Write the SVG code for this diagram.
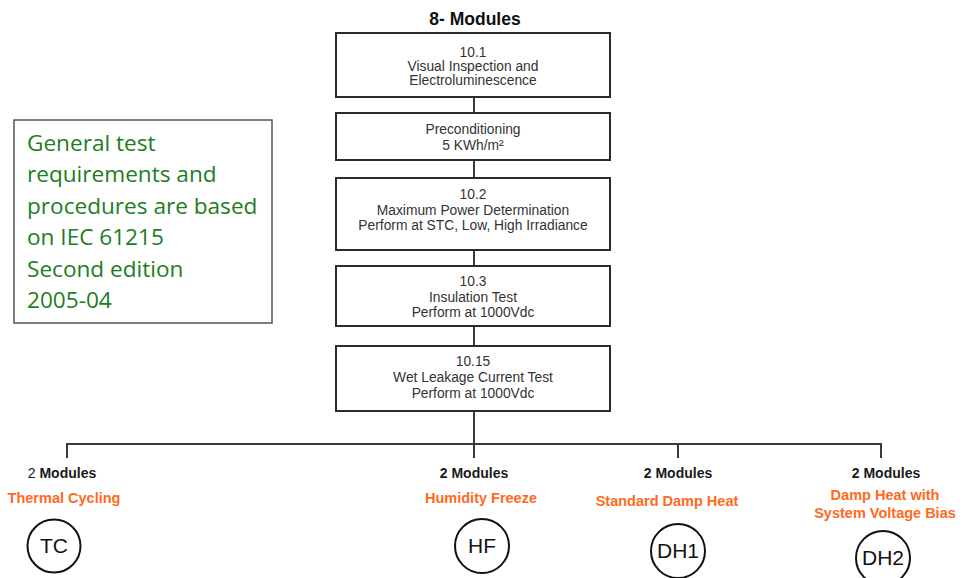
<svg xmlns="http://www.w3.org/2000/svg" width="966" height="578" viewBox="0 0 966 578">
  <style>
    .step { fill: #ffffff; stroke: #2b2b2b; stroke-width: 2; }
    .step-text { font-family: "Liberation Sans", Arial, sans-serif; font-size: 13.8px; fill: #333333; text-anchor: middle; }
    .link { stroke: #3a3a3a; stroke-width: 2; fill: none; }
    .count { font-family: "Liberation Sans", Arial, sans-serif; font-size: 14px; font-weight: bold; fill: #1a1a1a; text-anchor: middle; }
    .test-name { font-family: "Liberation Sans", Arial, sans-serif; font-size: 14.5px; font-weight: bold; fill: #ff6a1c; text-anchor: middle; }
    .badge { fill: #ffffff; stroke: #111111; stroke-width: 2; }
    .badge-text { font-family: "Liberation Sans", Arial, sans-serif; font-size: 21px; fill: #111111; text-anchor: middle; }
    .note { font-family: "Open Sans", Lato, sans-serif; font-size: 22.6px; fill: #1e7d1e; }
  </style>

  <rect width="966" height="578" fill="#ffffff"/>

  <text x="475" y="25" font-family="Liberation Sans, Arial, sans-serif" font-size="17.5" font-weight="bold" fill="#111111" text-anchor="middle">8- Modules</text>

  <!-- connectors -->
  <g id="connectors">
    <line class="link" x1="474" y1="97" x2="474" y2="113"/>
    <line class="link" x1="474" y1="160" x2="474" y2="178"/>
    <line class="link" x1="474" y1="250" x2="474" y2="266"/>
    <line class="link" x1="474" y1="326" x2="474" y2="346"/>
    <line class="link" x1="474" y1="411" x2="474" y2="458"/>
    <polyline class="link" points="67,458 67,444 881,444 881,458"/>
    <line class="link" x1="678" y1="444" x2="678" y2="458"/>
  </g>

  <!-- sequence of steps -->
  <g id="step-visual">
    <rect class="step" x="336" y="33" width="274" height="64"/>
    <text class="step-text" x="473" y="57">10.1</text>
    <text class="step-text" x="473" y="71">Visual Inspection and</text>
    <text class="step-text" x="473" y="85">Electroluminescence</text>
  </g>
  <g id="step-precondition">
    <rect class="step" x="336" y="113" width="274" height="47"/>
    <text class="step-text" x="473" y="134">Preconditioning</text>
    <text class="step-text" x="473" y="150">5 KWh/m²</text>
  </g>
  <g id="step-power">
    <rect class="step" x="336" y="178" width="274" height="72"/>
    <text class="step-text" x="473" y="199">10.2</text>
    <text class="step-text" x="473" y="215">Maximum Power Determination</text>
    <text class="step-text" x="473" y="230">Perform at STC, Low, High Irradiance</text>
  </g>
  <g id="step-insulation">
    <rect class="step" x="336" y="266" width="274" height="60"/>
    <text class="step-text" x="473" y="286">10.3</text>
    <text class="step-text" x="473" y="302">Insulation Test</text>
    <text class="step-text" x="473" y="317">Perform at 1000Vdc</text>
  </g>
  <g id="step-wet-leakage">
    <rect class="step" x="336" y="346" width="274" height="65"/>
    <text class="step-text" x="473" y="366">10.15</text>
    <text class="step-text" x="473" y="382">Wet Leakage Current Test</text>
    <text class="step-text" x="473" y="398">Perform at 1000Vdc</text>
  </g>

  <!-- reference note -->
  <g id="note">
    <rect x="14" y="120" width="258" height="203" fill="#ffffff" stroke="#555555" stroke-width="1.5"/>
    <text class="note" x="27" y="151">General test</text>
    <text class="note" x="27" y="182">requirements and</text>
    <text class="note" x="27" y="214">procedures are based</text>
    <text class="note" x="27" y="245">on IEC 61215</text>
    <text class="note" x="27" y="277">Second edition</text>
    <text class="note" x="27" y="308">2005-04</text>
  </g>

  <!-- test branches -->
  <g id="branch-tc">
    <text class="count" x="62" y="478"><tspan font-weight="normal">2</tspan> Modules</text>
    <text class="test-name" x="64" y="503">Thermal Cycling</text>
    <circle class="badge" cx="54" cy="546" r="26.5"/>
    <text class="badge-text" x="54" y="553">TC</text>
  </g>
  <g id="branch-hf">
    <text class="count" x="474" y="478">2 Modules</text>
    <text class="test-name" x="481" y="503">Humidity Freeze</text>
    <circle class="badge" cx="482" cy="546" r="27"/>
    <text class="badge-text" x="482" y="553">HF</text>
  </g>
  <g id="branch-dh1">
    <text class="count" x="678" y="478">2 Modules</text>
    <text class="test-name" x="667" y="506">Standard Damp Heat</text>
    <circle class="badge" cx="678" cy="551" r="27"/>
    <text class="badge-text" x="678" y="558">DH1</text>
  </g>
  <g id="branch-dh2">
    <text class="count" x="886" y="478">2 Modules</text>
    <text class="test-name" x="885" y="500">Damp Heat with</text>
    <text class="test-name" x="885" y="518">System Voltage Bias</text>
    <circle class="badge" cx="883" cy="558" r="27"/>
    <text class="badge-text" x="883" y="565">DH2</text>
  </g>
</svg>
